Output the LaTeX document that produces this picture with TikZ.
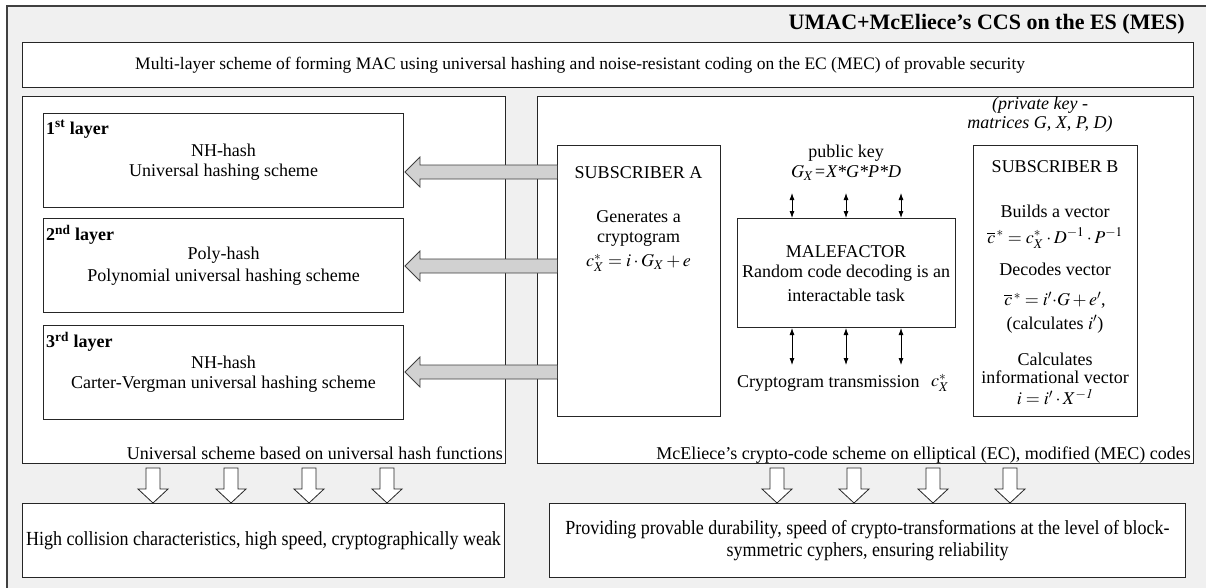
\documentclass[tikz,border=0pt]{standalone}
\usepackage{mathptmx}
\usepackage[no-math]{fontspec}
\setmainfont{Liberation Serif}
\usetikzlibrary{arrows.meta,calc}
\begin{document}
\begin{tikzpicture}[x=1pt,y=-1pt,
  bx/.style={draw=black!85, fill=white, line width=1pt, inner sep=0pt, anchor=north west},
  t/.style={font=\fontsize{18}{20}\selectfont, align=center, inner sep=0pt},
  lab/.style={anchor=north west, inner sep=0pt, font=\bfseries\fontsize{18}{20}\selectfont},
  garrow/.style={draw=black!75, fill=black!18, line width=0.8pt},
  warrow/.style={draw=black!85, fill=white, line width=0.8pt},
  darr/.style={{Latex[length=7pt,width=5pt]}-{Latex[length=7pt,width=5pt]}, line width=0.8pt},
  cond/.style={font=\fontsize{20}{22}\selectfont, align=center, inner sep=0pt}]
\newcommand\bx[5]{\node[bx, minimum width=#4pt, minimum height=#5pt] (#1) at (#2,#3) {};}
\newcommand\nrw[1]{\scalebox{0.9}[1]{#1}}
\useasboundingbox (0,0) rectangle (1206,587);
\clip (0,0) rectangle (1206,587);
\node[draw=black!75, fill=black!6, line width=1.5pt, anchor=north west, minimum width=1220pt, minimum height=600pt, inner sep=0pt] (frame) at (6,5) {};
\node[anchor=base east, inner sep=0pt, font=\bfseries\fontsize{22}{24}\selectfont] (title) at (1185,29) {UMAC+McEliece’s CCS on the ES (MES)};
% boxes
\bx{top}{22}{42}{1171}{45}
\bx{LP}{22}{96}{483}{367}
\bx{RP}{537}{96}{656}{367}
\bx{L1}{43}{113}{360}{94}
\bx{L2}{43}{218}{360}{94}
\bx{L3}{43}{325}{360}{94}
\bx{subA}{557}{145}{163}{271}
\bx{mal}{737}{218}{218}{109}
\bx{subB}{973}{145}{164}{271}
\bx{BL}{22}{503}{482}{74}
\bx{BR}{549}{503}{636}{74}
% top text
\node[t, font=\fontsize{17.5}{19}\selectfont, anchor=west] (toptxt) at (135,65) {Multi-layer scheme of forming MAC using universal hashing and noise-resistant coding on the EC (MEC) of provable security};
% layers
\node[lab] (l1lab) at ($(L1.north west)+(3,7)$) {1\textsuperscript{st} layer};
\node[lab] (l2lab) at ($(L2.north west)+(3,7)$) {2\textsuperscript{nd} layer};
\node[lab] (l3lab) at ($(L3.north west)+(3,7)$) {3\textsuperscript{rd} layer};
\node[t] (l1a) at ($(L1.north)+(0,37)$) {NH-hash};
\node[t] (l1b) at ($(L1.north)+(0,59)$) {Universal hashing scheme};
\node[t] (l2a) at ($(L2.north)+(0,37)$) {Poly-hash};
\node[t] (l2b) at ($(L2.north)+(0,59)$) {Polynomial universal hashing scheme};
\node[t] (l3a) at ($(L3.north)+(0,37)$) {NH-hash};
\node[t] (l3b) at ($(L3.north)+(0,59)$) {Carter-Vergman universal hashing scheme};
\node[t, anchor=base east] (lpcap) at (503,459) {Universal scheme based on universal hash functions};
\node[t, anchor=base east] (rpcap) at (1191,459) {McEliece’s crypto-code scheme on elliptical (EC), modified (MEC) codes};
% gray arrows from subscriber A to layers
\foreach \y in {172,266,372}{
  \draw[garrow] (subA.west |- 0,\y) ++(0,-7) -- (420,\y-7) -- (420,\y-15) -- (405,\y) -- (420,\y+15) -- (420,\y+7) -- (subA.west |- 0,\y+7);
}
% subscriber A
\node[t] (sa1) at (638.5,173) {SUBSCRIBER A};
\node[t] (sa2) at (638.5,217) {Generates a};
\node[t] (sa3) at (638.5,239) {cryptogram};
\node[t] (sa4) at (638.5,263) {$c_X^{*}=i\cdot G_X+e$};
% public key
\node[t] (pk1) at (846,153) {public key};
\node[t] (pk2) at (846,173) {$G_X$\textit{=X*G*P*D}};
% malefactor
\node[t] (m1) at (846,252) {MALEFACTOR};
\node[t] (m2) at (846,273) {Random code decoding is an};
\node[t] (m3) at (846,295) {interactable task};
\foreach \x in {792,846,901}{
  \draw[darr] (\x,193) -- (mal.north -| \x,0);
  \draw[darr] (mal.south -| \x,0) -- (\x,365);
}
\node[t, anchor=west] (ct) at (737,383) {Cryptogram transmission};
\node[t] (ctc) at (940,383) {$c_X^{*}$};
% subscriber B
\node[t, font=\itshape\fontsize{18}{20}\selectfont] (pv1) at (1040,105) {(private key -};
\node[t, font=\itshape\fontsize{18}{20}\selectfont] (pv2) at (1040,124) {matrices G, X, P, D)};
\node[t] (sb1) at (1055,167) {SUBSCRIBER B};
\node[t] (sb2) at (1055,211) {Builds a vector};
\node[t] (sb3) at (1055,238) {$\overline{c}^{\,*}=c_X^{*}\cdot D^{-1}\cdot P^{-1}$};
\node[t] (sb4) at (1055,269) {Decodes vector};
\node[t] (sb5) at (1055,300) {$\overline{c}^{\,*}=i'{\cdot}G+e'$,};
\node[t] (sb6) at (1055,324) {(calculates $i'$)};
\node[t] (sb7) at (1055,359) {Calculates};
\node[t] (sb8) at (1055,377) {informational vector};
\node[t] (sb9) at (1055,397) {$i=i'\cdot X^{\mathit{-1}}$};
% white down arrows
\foreach \x in {153,231,309,387,777,854,933,1010}{
  \draw[warrow] (\x-7,468) -- (\x+7,468) -- (\x+7,489) -- (\x+15,489) -- (\x,503) -- (\x-15,489) -- (\x-7,489) -- cycle;
}
% bottom texts
\node[cond] (bl) at (BL.center) {\nrw{High collision characteristics, high speed, cryptographically weak}};
\node[cond] (br) at (BR.center) {\nrw{Providing provable durability, speed of crypto-transformations at the level of block-}\\\nrw{symmetric cyphers, ensuring reliability}};
\end{tikzpicture}
\end{document}
